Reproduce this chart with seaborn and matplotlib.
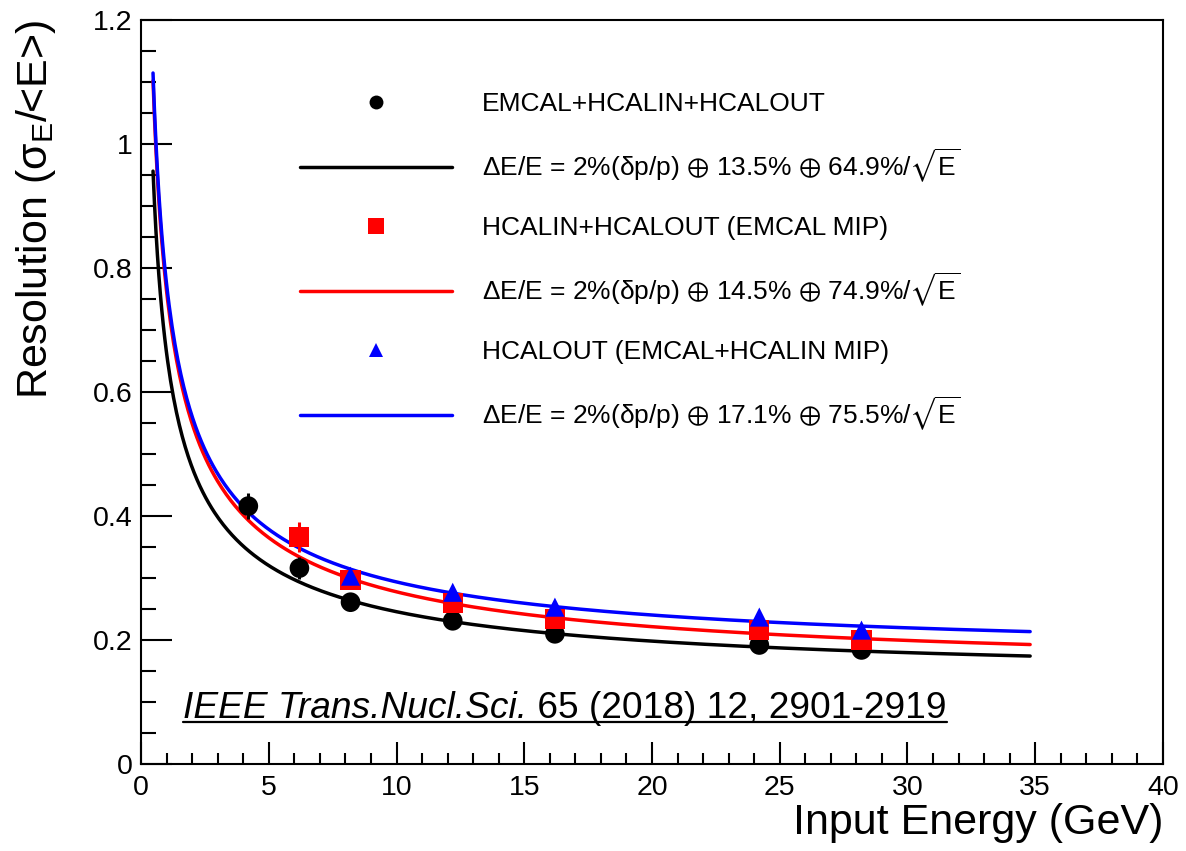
import numpy as np
import pandas as pd
import matplotlib
matplotlib.use("Agg")
import matplotlib.pyplot as plt
from matplotlib.lines import Line2D
from matplotlib.ticker import MultipleLocator, FixedLocator, FixedFormatter
import seaborn as sns

# ---------------- data ----------------
E_all = [4.2, 6.2, 8.2, 12.2, 16.2, 24.2, 28.2]
res_all = [0.416, 0.316, 0.261, 0.231, 0.210, 0.192, 0.184]
err_all = [0.021, 0.018, 0.006, 0.005, 0.004, 0.004, 0.004]

E_hcal = [6.2, 8.2, 12.2, 16.2, 24.2, 28.2]
res_hcal = [0.366, 0.297, 0.260, 0.234, 0.216, 0.200]
err_hcal = [0.024, 0.007, 0.005, 0.005, 0.005, 0.005]

E_out = [8.2, 12.2, 16.2, 24.2, 28.2]
res_out = [0.303, 0.277, 0.253, 0.237, 0.216]
err_out = [0.005, 0.005, 0.005, 0.005, 0.005]

# fit parameters (from legend): constant term, stochastic term
fit_const = [0.135, 0.145, 0.171]
fit_stoch = [0.649, 0.749, 0.755]
fit_range = [0.47, 34.8]

labels = ["EMCAL+HCALIN+HCALOUT",
          r"ΔE/E = 2%(δp/p) $\oplus$ 13.5% $\oplus$ 64.9%/$\sqrt{\mathrm{E}}$",
          "HCALIN+HCALOUT (EMCAL MIP)",
          r"ΔE/E = 2%(δp/p) $\oplus$ 14.5% $\oplus$ 74.9%/$\sqrt{\mathrm{E}}$",
          "HCALOUT (EMCAL+HCALIN MIP)",
          r"ΔE/E = 2%(δp/p) $\oplus$ 17.1% $\oplus$ 75.5%/$\sqrt{\mathrm{E}}$"]
colors = ["#000000", "#ff0000", "#0000ff"]
markers = ["o", "s", "^"]

# ---------------- style ----------------
sns.set_style("ticks")
plt.rcParams["font.family"] = ["Liberation Sans", "DejaVu Sans"]
plt.rcParams["mathtext.fontset"] = "custom"
plt.rcParams["mathtext.rm"] = "Liberation Sans"
plt.rcParams["mathtext.it"] = "Liberation Sans:italic"
plt.rcParams["mathtext.bf"] = "Liberation Sans:bold"
plt.rcParams["mathtext.fallback"] = "stix"
for k in ["text.color", "axes.labelcolor", "xtick.color", "ytick.color",
          "xtick.labelcolor", "ytick.labelcolor", "axes.edgecolor"]:
    plt.rcParams[k] = "black"

fig = plt.figure(figsize=(11.86, 8.51), dpi=100)
ax = fig.add_axes([0.1189, 0.1022, 0.8617, 0.8743])

# fits
Egrid = np.linspace(fit_range[0], fit_range[1], 600)
for i in range(3):
    r = np.sqrt(fit_const[i] ** 2 + fit_stoch[i] ** 2 / Egrid)
    df = pd.DataFrame({"E": Egrid, "R": r})
    sns.lineplot(data=df, x="E", y="R", ax=ax, color=colors[i], lw=2.5,
                 legend=False, zorder=2)

# data points
series = [(E_all, res_all, err_all), (E_hcal, res_hcal, err_hcal), (E_out, res_out, err_out)]
sizes = [200, 210, 190]
for i, (e, r, er) in enumerate(series):
    ax.errorbar(e, r, yerr=er, fmt="none", ecolor=colors[i], elinewidth=2.2,
                capsize=0, zorder=3 + i)
    df = pd.DataFrame({"E": e, "R": r})
    sns.scatterplot(data=df, x="E", y="R", ax=ax, color=colors[i], marker=markers[i],
                    s=sizes[i], edgecolor="none", linewidth=0, legend=False, zorder=3 + i)

# axes
ax.set_xlim(0, 40)
ax.set_ylim(0, 1.2)
ax.xaxis.set_major_locator(MultipleLocator(5))
ax.xaxis.set_minor_locator(MultipleLocator(1))
ax.yaxis.set_major_locator(FixedLocator([0, 0.2, 0.4, 0.6, 0.8, 1.0, 1.2]))
ax.yaxis.set_major_formatter(FixedFormatter(["0", "0.2", "0.4", "0.6", "0.8", "1", "1.2"]))
ax.yaxis.set_minor_locator(MultipleLocator(0.05))
ax.tick_params(axis="both", which="both", direction="in", color="black", width=1.5,
               top=False, right=False, labelcolor="black")
ax.tick_params(axis="x", which="major", length=16, labelsize=20.5, pad=8)
ax.tick_params(axis="x", which="minor", length=8)
ax.tick_params(axis="y", which="major", length=22, labelsize=20.5, pad=6)
ax.tick_params(axis="y", which="minor", length=11)
for sp in ax.spines.values():
    sp.set_visible(True)
    sp.set_linewidth(1.5)
    sp.set_color("black")

ax.set_xlabel("Input Energy (GeV)", fontsize=31, loc="right", color="black")
ax.set_ylabel(r"Resolution (σ${}_{\mathrm{E}}$/<E>)", fontsize=31, loc="top", color="black")
ax.xaxis.set_label_coords(1.0, -0.053)
ax.yaxis.set_label_coords(-0.081, 1.0)

# legend
handles = []
for i in range(3):
    handles.append(Line2D([], [], ls="none", marker=markers[i], color=colors[i],
                          markersize=[10, 11, 10][i], markeredgewidth=0))
    handles.append(Line2D([], [], color=colors[i], lw=2.5))
leg = ax.legend(handles, labels, loc="upper left", bbox_to_anchor=(0.145, 0.917),
                frameon=False, handlelength=5.76, handletextpad=1.14,
                labelspacing=1.17, borderaxespad=0,
                prop={"family": ["Liberation Sans", "DejaVu Sans"], "size": 19})
for t in leg.get_texts():
    t.set_color("black")

# citation
cit1 = ax.text(1.64, 0.074, "IEEE Trans.Nucl.Sci.", fontsize=26.7, style="italic",
               ha="left", va="baseline", zorder=6, color="black")
fig.canvas.draw()
bb1 = cit1.get_window_extent()
inv = ax.transData.inverted()
xa = inv.transform((bb1.x1, 0))[0]
cit2 = ax.text(xa, 0.074, " 65 (2018) 12, 2901-2919", fontsize=26.7,
               ha="left", va="baseline", zorder=6, color="black")
fig.canvas.draw()
bb2 = cit2.get_window_extent()
x0 = inv.transform((bb1.x0, 0))[0]
x1 = inv.transform((bb2.x1, 0))[0]
ax.plot([x0, x1], [0.068, 0.068], color="black", lw=1.6, zorder=6)

fig.savefig("out.png", dpi=100)
